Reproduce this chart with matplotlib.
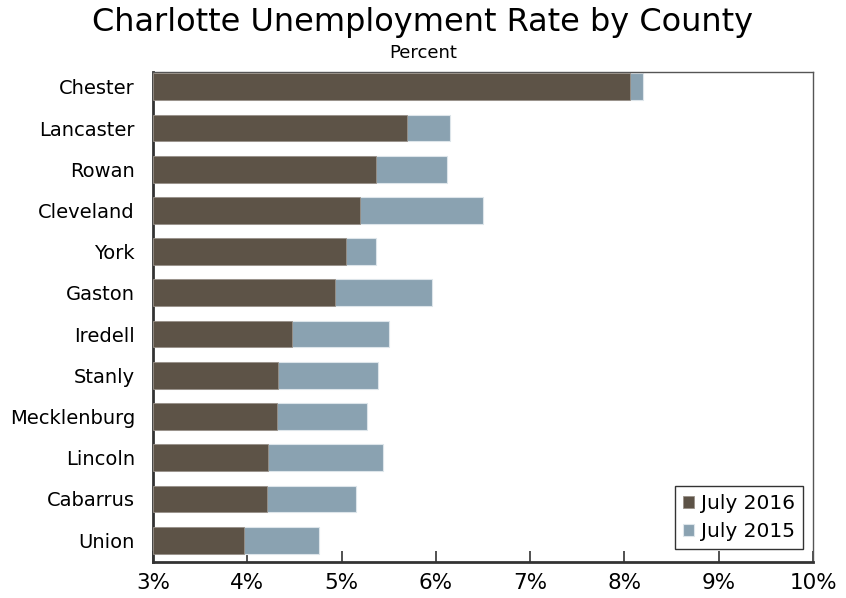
import matplotlib
matplotlib.use("Agg")
import matplotlib.pyplot as plt
import numpy as np

counties = ["Chester", "Lancaster", "Rowan", "Cleveland", "York", "Gaston",
            "Iredell", "Stanly", "Mecklenburg", "Lincoln", "Cabarrus", "Union"]
july_2016 = [8.06, 5.69, 5.36, 5.20, 5.05, 4.93, 4.47, 4.33, 4.32, 4.22, 4.21, 3.96]
july_2015 = [8.20, 6.15, 6.12, 6.50, 5.37, 5.96, 5.50, 5.39, 5.27, 5.44, 5.15, 4.76]
xticks = [3, 4, 5, 6, 7, 8, 9, 10]
xticklabels = ["3%", "4%", "5%", "6%", "7%", "8%", "9%", "10%"]

brown = "#5d5347"
blue = "#8aa2b1"

fig = plt.figure(figsize=(8.46, 5.98), dpi=100)
ax = fig.add_axes([153/846, 1 - 562/598, (813-153)/846, (562-72)/598])

n = len(counties)
y = np.arange(n)[::-1]
base = 3.0
h = 0.65
ax.barh(y, np.array(july_2015) - base, left=base, height=h, color=blue,
        edgecolor="#dde5ea", linewidth=0.8, label="July 2015", zorder=2)
ax.barh(y, np.array(july_2016) - base, left=base, height=h, color=brown,
        edgecolor="#9a928a", linewidth=0.6, label="July 2016", zorder=3)

ax.set_xlim(3, 10)
ax.set_ylim(-0.53, n - 1 + 0.36)
ax.set_xticks(xticks)
ax.set_xticklabels(xticklabels, fontsize=15.5)
ax.set_yticks(y)
ax.set_yticklabels(counties, fontsize=14)
ax.tick_params(axis="y", length=0, pad=13)
ax.tick_params(axis="x", direction="in", length=8, width=1.2, color="#333333", pad=8)

for side in ["top", "right"]:
    ax.spines[side].set_color("#555555")
    ax.spines[side].set_linewidth(1.0)
ax.spines["left"].set_color("#333333")
ax.spines["left"].set_linewidth(2.0)
ax.spines["bottom"].set_color("#333333")
ax.spines["bottom"].set_linewidth(2.0)

handles, labels = ax.get_legend_handles_labels()
leg = ax.legend(handles[::-1], labels[::-1], loc="lower right",
                bbox_to_anchor=(1 - 10/660, 13/490), fontsize=14.5, frameon=True,
                fancybox=False, edgecolor="black", handlelength=0.55,
                handleheight=0.55, handletextpad=0.35, borderpad=0.4,
                labelspacing=0.45, borderaxespad=0)
leg.get_frame().set_linewidth(1.0)

fig.text(0.5, 1 - 22/598, "Charlotte Unemployment Rate by County",
         ha="center", va="center", fontsize=23)
fig.text(0.5, 1 - 53/598, "Percent", ha="center", va="center", fontsize=13)

fig.savefig("out.png", dpi=100)
